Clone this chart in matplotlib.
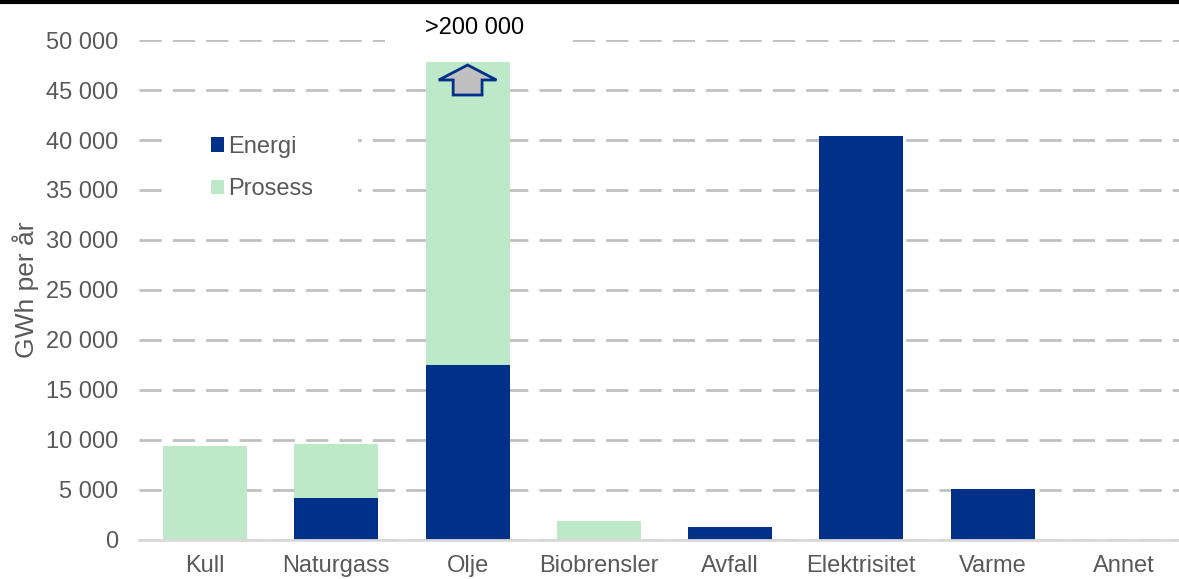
import matplotlib
matplotlib.use("Agg")
import matplotlib.pyplot as plt
from matplotlib.patches import Polygon, Rectangle
from matplotlib.ticker import FuncFormatter
import numpy as np

plt.rcParams['font.family'] = ['Liberation Sans', 'DejaVu Sans']

categories = ['Kull', 'Naturgass', 'Olje', 'Biobrensler', 'Avfall',
              'Elektrisitet', 'Varme', 'Annet']
energi = [0, 4200, 17500, 0, 1300, 40400, 5100, 0]
prosess = [9400, 5400, 30300, 1900, 0, 0, 0, 0]
olje_note = '>200 000'

navy = '#003087'
green = '#bde9c8'
grey_txt = '#595959'
fs = 17

fig = plt.figure(figsize=(11.79, 5.79), dpi=100)
ax = fig.add_axes([0.1183, 0.0674, 0.8906, 0.8635])

x = np.arange(len(categories))
ax.bar(x, energi, width=0.64, color=navy, label='Energi', zorder=2)
ax.bar(x, prosess, width=0.64, bottom=energi, color=green, label='Prosess', zorder=2)

ax.set_xlim(-0.5, len(categories) - 0.5)
ax.set_ylim(0, 50000)
ax.set_yticks(np.arange(0, 50001, 5000))
ax.yaxis.set_major_formatter(FuncFormatter(lambda v, p: f'{int(v):,}'.replace(',', ' ')))
ax.set_xticks(x)
ax.set_xticklabels(categories)

ax.set_axisbelow(True)
ax.yaxis.grid(True, color='#c0c0c0', linestyle=(0, (8, 4)), linewidth=2)
for s in ['top', 'right', 'left']:
    ax.spines[s].set_visible(False)
ax.spines['bottom'].set_color('#d9d9d9')
ax.spines['bottom'].set_linewidth(2)
ax.tick_params(axis='both', length=0, labelsize=fs, colors=grey_txt)
ax.tick_params(axis='y', pad=15.5)
ax.tick_params(axis='x', pad=11)
ax.set_ylabel('GWh per år', fontsize=19, color=grey_txt)
ax.yaxis.set_label_coords(-0.0957, 0.50)

# note above the oil bar, with the gridline blanked out behind it
io = categories.index('Olje')
ax.add_patch(Rectangle((io - 0.63, 48800), 1.41, 2800, facecolor='white',
                       edgecolor='none', zorder=1, clip_on=False))
ax.text(io + 0.05, 51200, olje_note, ha='center', va='center', fontsize=fs,
        color='black', zorder=3, clip_on=False)

# up arrow marking the truncated bar
arrow = [(io, 47500), (io + 0.22, 46000), (io + 0.11, 46000), (io + 0.11, 44500),
         (io - 0.11, 44500), (io - 0.11, 46000), (io - 0.22, 46000)]
ax.add_patch(Polygon(arrow, closed=True, facecolor='#c0c0c0', edgecolor=navy,
                     linewidth=2, zorder=3))

# white box behind the legend
ax.add_patch(Rectangle((0.021, 0.63), 0.187, 0.23, transform=ax.transAxes,
                       facecolor='white', edgecolor='none', zorder=1))
leg = ax.legend(loc='center left', bbox_to_anchor=(0.068, 0.744), fontsize=fs,
                frameon=False, handlelength=0.55, handleheight=0.55,
                handletextpad=0.2, labelspacing=0.86, borderpad=0,
                borderaxespad=0)
for t in leg.get_texts():
    t.set_color(grey_txt)

# black rule along the top edge
fig.add_artist(plt.Line2D([0, 1], [0.996, 0.996], color='black', linewidth=3,
                          transform=fig.transFigure))

fig.savefig('out.png', dpi=100)
